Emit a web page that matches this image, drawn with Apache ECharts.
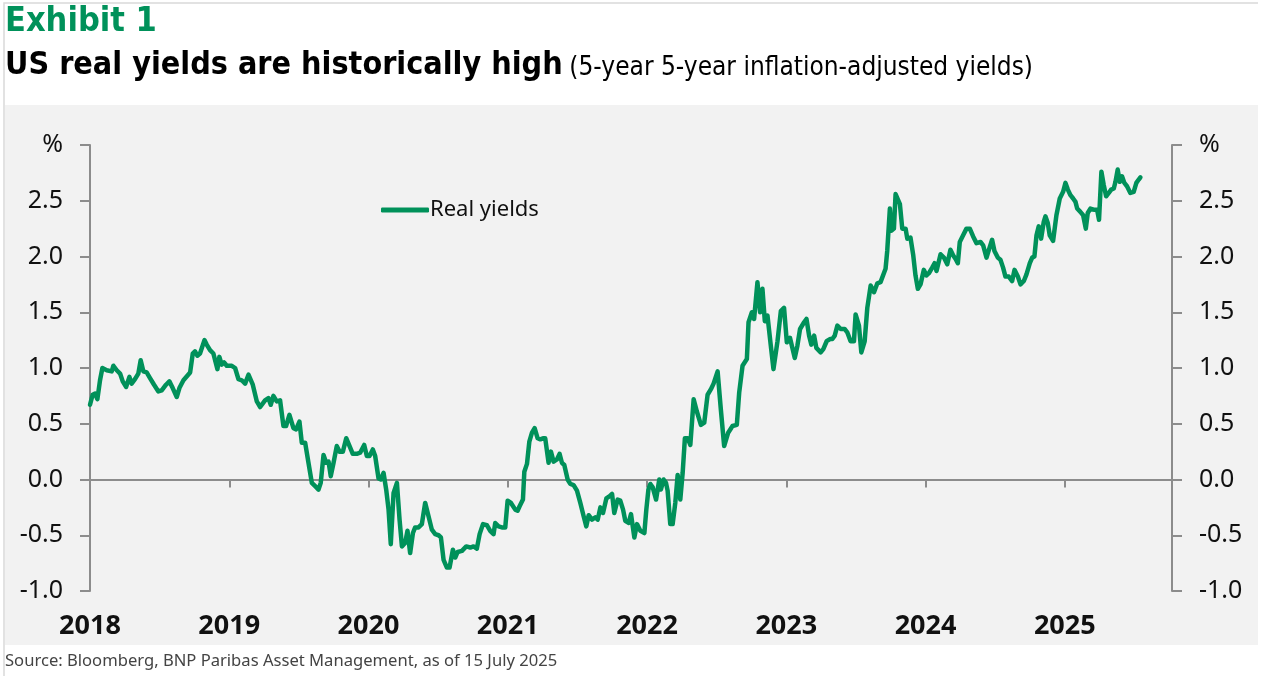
<!DOCTYPE html>
<html>
<head>
<meta charset="utf-8">
<title>US real yields</title>
<script src="https://cdn.jsdelivr.net/npm/echarts@6/dist/echarts.min.js"></script>
<style>
  html, body { margin: 0; padding: 0; background: #ffffff; }
  #main { width: 1261px; height: 676px; }
</style>
</head>
<body>
<div id="main"></div>
<script>
// 5y5y real yields (decimal year, %)
const dates = [
  2018.000, 2018.019, 2018.036, 2018.053, 2018.072, 2018.089, 2018.120, 2018.156, 2018.168, 2018.192,
  2018.216, 2018.235, 2018.259, 2018.283, 2018.299, 2018.323, 2018.347, 2018.364, 2018.383, 2018.407,
  2018.431, 2018.460, 2018.491, 2018.515, 2018.546, 2018.570, 2018.594, 2018.623, 2018.642, 2018.671,
  2018.719, 2018.738, 2018.754, 2018.771, 2018.790, 2018.802, 2018.822, 2018.838, 2018.862, 2018.886,
  2018.915, 2018.929, 2018.946, 2018.963, 2018.982, 2019.018, 2019.042, 2019.066, 2019.090, 2019.114,
  2019.138, 2019.169, 2019.198, 2019.222, 2019.257, 2019.281, 2019.298, 2019.317, 2019.341, 2019.365,
  2019.389, 2019.408, 2019.432, 2019.461, 2019.480, 2019.504, 2019.521, 2019.545, 2019.569, 2019.593,
  2019.617, 2019.641, 2019.657, 2019.677, 2019.696, 2019.713, 2019.729, 2019.749, 2019.772, 2019.792,
  2019.816, 2019.840, 2019.864, 2019.887, 2019.916, 2019.940, 2019.969, 2019.988, 2020.007, 2020.031,
  2020.048, 2020.072, 2020.089, 2020.108, 2020.127, 2020.144, 2020.160, 2020.180, 2020.204, 2020.223,
  2020.240, 2020.263, 2020.280, 2020.299, 2020.319, 2020.335, 2020.359, 2020.383, 2020.407, 2020.431,
  2020.455, 2020.479, 2020.503, 2020.520, 2020.539, 2020.563, 2020.582, 2020.606, 2020.623, 2020.640,
  2020.671, 2020.702, 2020.731, 2020.754, 2020.778, 2020.798, 2020.822, 2020.850, 2020.874, 2020.898,
  2020.910, 2020.934, 2020.958, 2020.982, 2020.999, 2021.023, 2021.054, 2021.071, 2021.085, 2021.109,
  2021.119, 2021.138, 2021.155, 2021.174, 2021.193, 2021.214, 2021.234, 2021.253, 2021.269, 2021.293,
  2021.310, 2021.329, 2021.353, 2021.372, 2021.389, 2021.406, 2021.430, 2021.449, 2021.473, 2021.497,
  2021.521, 2021.545, 2021.564, 2021.581, 2021.605, 2021.629, 2021.646, 2021.665, 2021.684, 2021.708,
  2021.732, 2021.749, 2021.765, 2021.789, 2021.808, 2021.828, 2021.844, 2021.868, 2021.885, 2021.909,
  2021.928, 2021.952, 2021.981, 2021.995, 2022.010, 2022.024, 2022.041, 2022.065, 2022.088, 2022.100,
  2022.119, 2022.136, 2022.148, 2022.167, 2022.184, 2022.203, 2022.220, 2022.239, 2022.256, 2022.272,
  2022.292, 2022.311, 2022.335, 2022.358, 2022.387, 2022.411, 2022.435, 2022.459, 2022.478, 2022.507,
  2022.530, 2022.554, 2022.583, 2022.614, 2022.645, 2022.662, 2022.686, 2022.717, 2022.729, 2022.753,
  2022.769, 2022.793, 2022.812, 2022.829, 2022.846, 2022.865, 2022.889, 2022.908, 2022.937, 2022.961,
  2022.984, 2023.004, 2023.027, 2023.061, 2023.080, 2023.099, 2023.128, 2023.145, 2023.164, 2023.180,
  2023.200, 2023.216, 2023.247, 2023.266, 2023.290, 2023.314, 2023.331, 2023.348, 2023.367, 2023.391,
  2023.419, 2023.438, 2023.462, 2023.486, 2023.498, 2023.522, 2023.539, 2023.563, 2023.582, 2023.606,
  2023.630, 2023.654, 2023.677, 2023.713, 2023.725, 2023.744, 2023.754, 2023.773, 2023.785, 2023.802,
  2023.816, 2023.833, 2023.857, 2023.869, 2023.892, 2023.912, 2023.928, 2023.945, 2023.964, 2023.988,
  2024.007, 2024.024, 2024.048, 2024.065, 2024.079, 2024.108, 2024.132, 2024.156, 2024.179, 2024.199,
  2024.215, 2024.232, 2024.246, 2024.270, 2024.294, 2024.318, 2024.342, 2024.366, 2024.395, 2024.414,
  2024.438, 2024.455, 2024.478, 2024.495, 2024.519, 2024.538, 2024.557, 2024.574, 2024.598, 2024.622,
  2024.639, 2024.663, 2024.682, 2024.706, 2024.725, 2024.749, 2024.766, 2024.782, 2024.797, 2024.813,
  2024.830, 2024.849, 2024.861, 2024.878, 2024.892, 2024.916, 2024.940, 2024.964, 2024.988, 2025.005,
  2025.022, 2025.041, 2025.060, 2025.077, 2025.089, 2025.112, 2025.132, 2025.151, 2025.165, 2025.184,
  2025.208, 2025.232, 2025.246, 2025.263, 2025.280, 2025.297, 2025.316, 2025.333, 2025.352, 2025.364,
  2025.380, 2025.395, 2025.411, 2025.428, 2025.447, 2025.471, 2025.495, 2025.514, 2025.531, 2025.543
];
const realYields = [
  0.67, 0.76, 0.77, 0.72, 0.89, 1.00, 0.98, 0.97, 1.02, 0.98,
  0.95, 0.88, 0.83, 0.92, 0.86, 0.90, 0.95, 1.07, 0.97, 0.96,
  0.91, 0.85, 0.79, 0.80, 0.85, 0.88, 0.82, 0.74, 0.82, 0.89,
  0.96, 1.13, 1.15, 1.11, 1.13, 1.12, 1.25, 1.21, 1.16, 1.13,
  0.99, 1.10, 1.03, 1.05, 1.02, 1.02, 1.00, 0.90, 0.89, 0.86,
  0.94, 0.85, 0.70, 0.65, 0.71, 0.73, 0.67, 0.75, 0.70, 0.71,
  0.48, 0.48, 0.58, 0.46, 0.45, 0.52, 0.33, 0.33, 0.15, -0.03,
  -0.06, -0.09, -0.03, 0.22, 0.15, 0.16, 0.03, 0.15, 0.30, 0.25,
  0.25, 0.37, 0.30, 0.23, 0.23, 0.24, 0.31, 0.21, 0.21, 0.27,
  0.21, 0.01, 0.00, 0.06, -0.09, -0.27, -0.58, -0.12, -0.03, -0.36,
  -0.60, -0.57, -0.46, -0.66, -0.48, -0.43, -0.43, -0.40, -0.21, -0.33,
  -0.45, -0.49, -0.50, -0.52, -0.72, -0.79, -0.79, -0.63, -0.70, -0.65,
  -0.64, -0.60, -0.61, -0.60, -0.62, -0.49, -0.40, -0.41, -0.46, -0.49,
  -0.39, -0.42, -0.43, -0.43, -0.19, -0.21, -0.27, -0.28, -0.24, -0.18,
  0.07, 0.14, 0.34, 0.42, 0.46, 0.37, 0.36, 0.37, 0.37, 0.15,
  0.25, 0.16, 0.18, 0.23, 0.15, 0.13, 0.00, -0.04, -0.05, -0.10,
  -0.21, -0.33, -0.42, -0.32, -0.36, -0.34, -0.36, -0.25, -0.30, -0.17,
  -0.15, -0.13, -0.30, -0.18, -0.19, -0.27, -0.37, -0.39, -0.31, -0.52,
  -0.40, -0.46, -0.48, -0.27, -0.09, -0.04, -0.07, -0.18, 0.00, -0.09,
  0.00, -0.03, -0.10, -0.40, -0.40, -0.21, 0.04, -0.18, 0.06, 0.37,
  0.37, 0.31, 0.72, 0.61, 0.49, 0.51, 0.76, 0.81, 0.86, 0.97,
  0.63, 0.30, 0.42, 0.48, 0.49, 0.78, 1.02, 1.08, 1.41, 1.50,
  1.44, 1.77, 1.50, 1.71, 1.42, 1.47, 1.20, 0.99, 1.24, 1.51,
  1.54, 1.23, 1.27, 1.09, 1.20, 1.35, 1.41, 1.44, 1.29, 1.21,
  1.29, 1.18, 1.14, 1.17, 1.24, 1.26, 1.26, 1.29, 1.38, 1.35,
  1.35, 1.32, 1.24, 1.24, 1.48, 1.38, 1.14, 1.24, 1.54, 1.74,
  1.68, 1.76, 1.77, 1.89, 2.05, 2.43, 2.23, 2.25, 2.56, 2.51,
  2.47, 2.25, 2.25, 2.16, 2.17, 2.01, 1.83, 1.71, 1.75, 1.88,
  1.83, 1.85, 1.90, 1.94, 1.87, 2.02, 1.99, 1.93, 2.06, 2.01,
  1.98, 1.94, 2.13, 2.19, 2.25, 2.25, 2.18, 2.12, 2.13, 2.10,
  1.99, 2.06, 2.15, 2.05, 1.99, 1.97, 1.90, 1.82, 1.82, 1.78,
  1.88, 1.82, 1.75, 1.78, 1.84, 1.94, 1.99, 2.00, 2.19, 2.27,
  2.16, 2.31, 2.36, 2.30, 2.19, 2.14, 2.37, 2.52, 2.58, 2.66,
  2.60, 2.55, 2.52, 2.49, 2.43, 2.40, 2.37, 2.25, 2.39, 2.43,
  2.42, 2.42, 2.33, 2.76, 2.64, 2.54, 2.57, 2.60, 2.61, 2.67,
  2.78, 2.67, 2.72, 2.66, 2.63, 2.57, 2.58, 2.66, 2.69, 2.71
];
const yearTicks = [2018, 2019, 2020, 2021, 2022, 2023, 2024, 2025];

const seriesData = dates.map((d, i) => [d, realYields[i]]);

const GREEN = '#00915A';
const AXIS = '#8c8c8c';
const FONT = "'Noto Sans', 'DejaVu Sans', sans-serif";
const NARROW = "'Liberation Sans Narrow', 'DejaVu Sans Condensed', 'Roboto', sans-serif";

const yLabel = v => (v === 3 ? '%' : v.toFixed(1));

function yAxisOf(pos) {
  return {
    type: 'value',
    position: pos,
    min: -1,
    max: 3,
    interval: 0.5,
    splitLine: { show: false },
    axisLine: { show: true, lineStyle: { color: AXIS, width: 2 } },
    axisTick: { show: true, inside: false, length: 10, lineStyle: { color: AXIS, width: 2 } },
    axisLabel: {
      margin: 27,
      formatter: yLabel,
      color: '#111',
      fontFamily: FONT,
      fontSize: 25
    }
  };
}

const option = {
  backgroundColor: '#ffffff',
  animation: false,
  graphic: [
    { type: 'rect', z: -100, shape: { x: 5, y: 105, width: 1253, height: 540 }, style: { fill: '#f2f2f2' } },
    { type: 'polyline', z: -90, shape: { points: [[4, 681], [4, 3], [1258, 3]] }, style: { stroke: '#d9d9d9', lineWidth: 1.5, fill: null } },
    {
      type: 'text', left: 5, top: 5,
      style: { text: 'Exhibit 1', fill: GREEN, font: 'bold 34px ' + NARROW }
    },
    {
      type: 'text', left: 5, top: 50,
      style: {
        text: '{a|US real yields are historically high}  {b|(5-year 5-year inflation-adjusted yields)}',
        rich: {
          a: { fill: '#000', fontFamily: NARROW, fontWeight: 'bold', fontSize: 32 },
          b: { fill: '#000', fontFamily: NARROW, fontSize: 26, padding: [4, 0, 0, 0] }
        }
      }
    },
    {
      type: 'text', left: 5, top: 653,
      style: { text: 'Source: Bloomberg, BNP Paribas Asset Management, as of 15 July 2025', fill: '#444', font: '16.6px ' + FONT }
    }
  ],
  legend: {
    left: 376,
    top: 194,
    icon: 'roundRect',
    itemWidth: 48,
    itemHeight: 5,
    itemGap: 10,
    textStyle: { color: '#111', fontFamily: FONT, fontSize: 22, padding: [0, 0, 0, -4] },
    data: ['Real yields']
  },
  grid: { left: 90, right: 89, top: 145, bottom: 85, containLabel: false },
  xAxis: [
    {
      type: 'value',
      min: 2018,
      max: 2025.77,
      interval: 1,
      splitLine: { show: false },
      axisLine: { show: true, onZero: true, onZeroAxisIndex: 0, lineStyle: { color: AXIS, width: 2 } },
      axisTick: { show: true, length: 8, customValues: yearTicks, lineStyle: { color: AXIS, width: 2 } },
      axisLabel: { show: false }
    },
    {
      type: 'value',
      position: 'bottom',
      min: 2018,
      max: 2025.77,
      interval: 1,
      splitLine: { show: false },
      axisLine: { show: false, onZero: false },
      axisTick: { show: false },
      axisLabel: {
        margin: 22,
        customValues: yearTicks,
        formatter: v => (Number.isInteger(v) ? String(v) : ''),
        color: '#111',
        fontFamily: FONT,
        fontWeight: 'bold',
        fontSize: 27
      }
    }
  ],
  yAxis: [yAxisOf('left'), yAxisOf('right')],
  series: [
    {
      name: 'Real yields',
      type: 'line',
      xAxisIndex: 0,
      yAxisIndex: 0,
      data: seriesData,
      showSymbol: false,
      symbol: 'none',
      itemStyle: { color: GREEN },
      lineStyle: { color: GREEN, width: 4.5, join: 'round', cap: 'round' },
      z: 5
    }
  ]
};

const myChart = echarts.init(document.getElementById('main'));
myChart.setOption(option);
</script>
</body>
</html>
